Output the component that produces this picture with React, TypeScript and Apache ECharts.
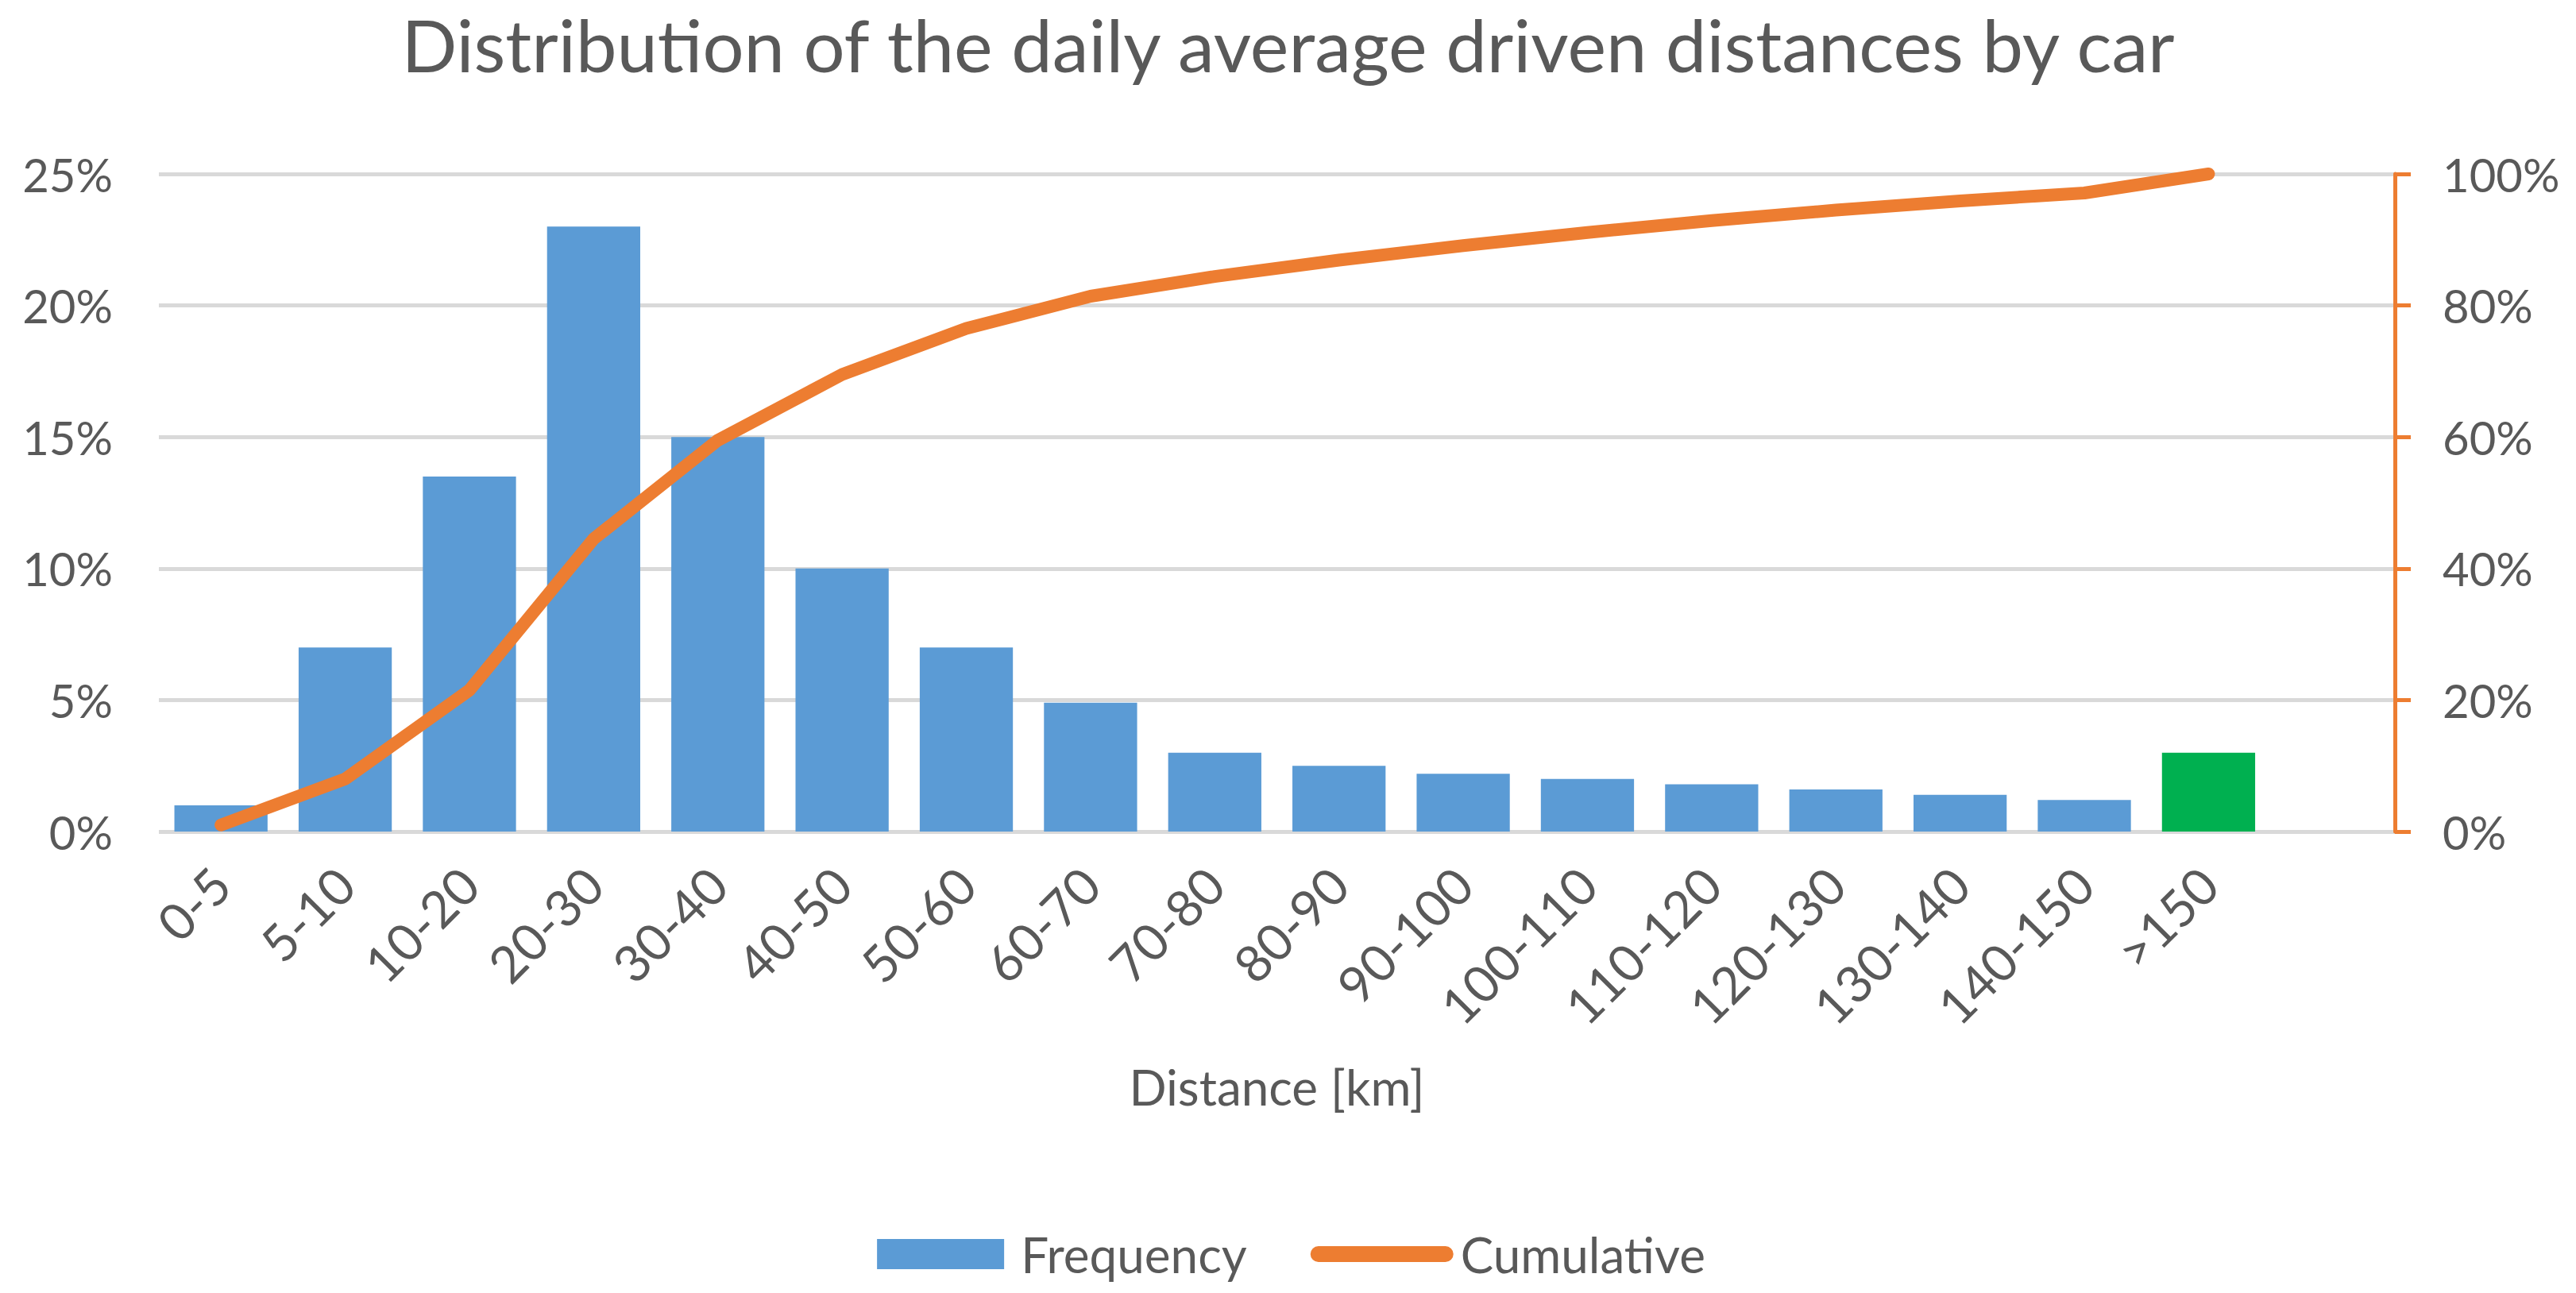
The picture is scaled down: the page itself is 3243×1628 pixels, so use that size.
import React, { useEffect, useRef } from "react";
import * as echarts from "echarts";

const categories = ["0-5", "5-10", "10-20", "20-30", "30-40", "40-50", "50-60", "60-70", "70-80", "80-90", "90-100", "100-110", "110-120", "120-130", "130-140", "140-150", ">150", ""];
const frequency = [1, 7, 13.5, 23, 15, 10, 7, 4.9, 3, 2.5, 2.2, 2, 1.8, 1.6, 1.4, 1.2, 3];
const cumulative = [1, 8, 21.5, 44.5, 59.5, 69.5, 76.5, 81.4, 84.4, 86.9, 89.1, 91.1, 92.9, 94.5, 95.9, 97.1, 100];
const highlightIndex = 16;

const TEXT = "#595959";
const FONT = "Lato";

// legend icons: invisible corner points fix the bounding box to 180x38
const BOX_ICON = "path://M0,0 L0.01,0 M180,38 L179.99,38 M8,0 L168,0 L168,38 L8,38 Z";
const LINE_ICON = "path://M0,0 L0.01,0 M180,38 L179.99,38 M10,9 L170,9 A10,10 0 0 1 170,29 L10,29 A10,10 0 0 1 10,9 Z";

export default function App() {
  const ref = useRef<HTMLDivElement>(null);
  useEffect(() => {
    document.body.style.margin = "0";
    const chart = echarts.init(ref.current!, undefined, { renderer: "svg" });
    chart.setOption({
      animation: false,
      backgroundColor: "#ffffff",
      textStyle: { fontFamily: FONT, color: TEXT },
      title: {
        text: "Distribution of the daily average driven distances by car",
        left: "center",
        top: 4,
        textStyle: { fontFamily: FONT, fontSize: 92, fontWeight: "normal", color: TEXT },
      },
      legend: {
        top: 1543,
        left: "center",
        itemWidth: 180,
        itemHeight: 38,
        itemGap: 80,
        textStyle: { fontFamily: FONT, fontSize: 62, color: TEXT, padding: [0, 0, 0, 4] },
        data: [
          { name: "Frequency", icon: BOX_ICON, itemStyle: { color: "#5B9BD5" } },
          { name: "Cumulative", icon: LINE_ICON, itemStyle: { color: "#ED7D31" } },
        ],
      },
      grid: { left: 200, right: 228, top: 219, bottom: 581, containLabel: false },
      xAxis: {
        type: "category",
        data: categories,
        name: "Distance [km]",
        nameLocation: "middle",
        nameGap: 290,
        nameTextStyle: { fontFamily: FONT, fontSize: 62, color: TEXT },
        axisLine: { show: false },
        axisTick: { show: false },
        axisLabel: { rotate: 45, margin: 56, fontFamily: FONT, fontSize: 64, color: TEXT, interval: 0 },
      },
      yAxis: [
        {
          type: "value",
          min: 0,
          max: 25,
          interval: 5,
          axisLine: { show: false },
          axisTick: { show: false },
          axisLabel: { formatter: "{value}%", margin: 58, fontFamily: FONT, fontSize: 58, color: TEXT },
          splitLine: { lineStyle: { color: "#D9D9D9", width: 5 } },
        },
        {
          type: "value",
          min: 0,
          max: 100,
          interval: 20,
          position: "right",
          axisLine: { show: true, lineStyle: { color: "#ED7D31", width: 5 } },
          axisTick: { show: true, inside: false, length: 20, lineStyle: { color: "#ED7D31", width: 5 } },
          axisLabel: { formatter: "{value}%", margin: 60, fontFamily: FONT, fontSize: 58, color: TEXT },
          splitLine: { show: false },
        },
      ],
      series: [
        {
          name: "Frequency",
          type: "bar",
          yAxisIndex: 0,
          barWidth: "75%",
          itemStyle: { color: "#5B9BD5" },
          data: frequency.map((v, i) =>
            i === highlightIndex ? { value: v, itemStyle: { color: "#00B050" } } : v
          ),
        },
        {
          name: "Cumulative",
          type: "line",
          yAxisIndex: 1,
          symbol: "none",
          lineStyle: { color: "#ED7D31", width: 16, cap: "round", join: "round" },
          itemStyle: { color: "#ED7D31" },
          data: cumulative,
        },
      ],
    });
    return () => chart.dispose();
  }, []);
  return <div ref={ref} style={{ width: 3243, height: 1628 }} />;
}
